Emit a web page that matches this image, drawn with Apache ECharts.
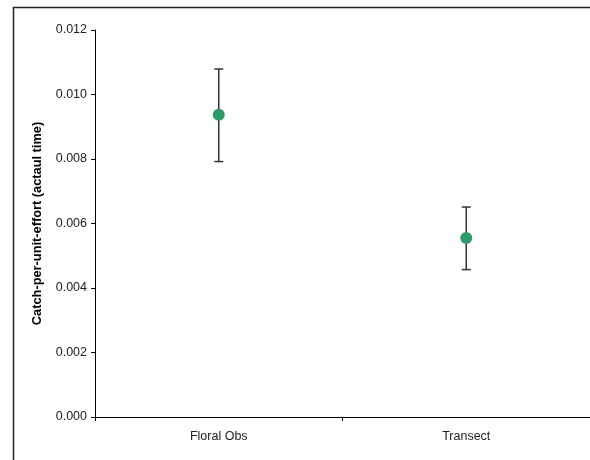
<!DOCTYPE html>
<html>
<head>
<meta charset="utf-8">
<script src="https://cdn.jsdelivr.net/npm/echarts@6/dist/echarts.min.js"></script>
<style>html,body{margin:0;padding:0;background:#fff}#c{width:590px;height:460px}</style>
</head>
<body>
<div id="c"></div>
<script>
var categories = ['Floral Obs', 'Transect'];
var means = [0.00937, 0.00555];
var upper = [0.01079, 0.00651];
var lower = [0.00792, 0.00457];
var yTicks = [0, 0.002, 0.004, 0.006, 0.008, 0.010, 0.012];

var chart = echarts.init(document.getElementById('c'));
var font = '"Liberation Sans", Arial, sans-serif';
chart.setOption({
  animation: false,
  backgroundColor: '#fff',
  graphic: [{
    type: 'rect', left: 11, top: 5, silent: true,
    shape: { width: 620, height: 500 },
    style: { fill: 'none', stroke: '#222', lineWidth: 1.5 }
  }],
  grid: { left: 95, top: 30, right: -1, bottom: 43, containLabel: false },
  xAxis: {
    type: 'category', data: categories, boundaryGap: true,
    axisLine: { lineStyle: { color: '#000', width: 1 } },
    axisTick: { show: true, length: 4, lineStyle: { color: '#000' } },
    axisLabel: { color: '#222', fontFamily: font, fontSize: 12.5, margin: 13 },
    splitLine: { show: false }
  },
  yAxis: {
    type: 'value', min: 0, max: 0.012, interval: 0.002,
    axisLine: { show: true, lineStyle: { color: '#000', width: 1 } },
    axisTick: { show: true, length: 4, lineStyle: { color: '#000' } },
    axisLabel: { color: '#222', fontFamily: font, fontSize: 12.5, margin: 8,
      formatter: function (v) { return v.toFixed(3); } },
    splitLine: { show: false },
    name: 'Catch-per-unit-effort (actaul time)',
    nameLocation: 'middle', nameGap: 51, nameRotate: 90,
    nameTextStyle: { color: '#000', fontFamily: font, fontSize: 12.8, fontWeight: 'bold' }
  },
  series: [{
    type: 'custom',
    data: categories.map(function (c, i) { return [i, lower[i], upper[i]]; }),
    renderItem: function (params, api) {
      var x = api.value(0);
      var lo = api.coord([x, api.value(1)]);
      var hi = api.coord([x, api.value(2)]);
      var hw = 4.5;
      var st = { stroke: '#333', lineWidth: 1.5 };
      return { type: 'group', children: [
        { type: 'line', shape: { x1: lo[0], y1: lo[1], x2: hi[0], y2: hi[1] }, style: st },
        { type: 'line', shape: { x1: hi[0] - hw, y1: hi[1], x2: hi[0] + hw, y2: hi[1] }, style: st },
        { type: 'line', shape: { x1: lo[0] - hw, y1: lo[1], x2: lo[0] + hw, y2: lo[1] }, style: st }
      ]};
    },
    z: 2
  }, {
    type: 'scatter', data: means, symbol: 'circle', symbolSize: 12,
    itemStyle: { color: '#2e9a68', opacity: 1 }, z: 3
  }]
});
</script>
</body>
</html>
